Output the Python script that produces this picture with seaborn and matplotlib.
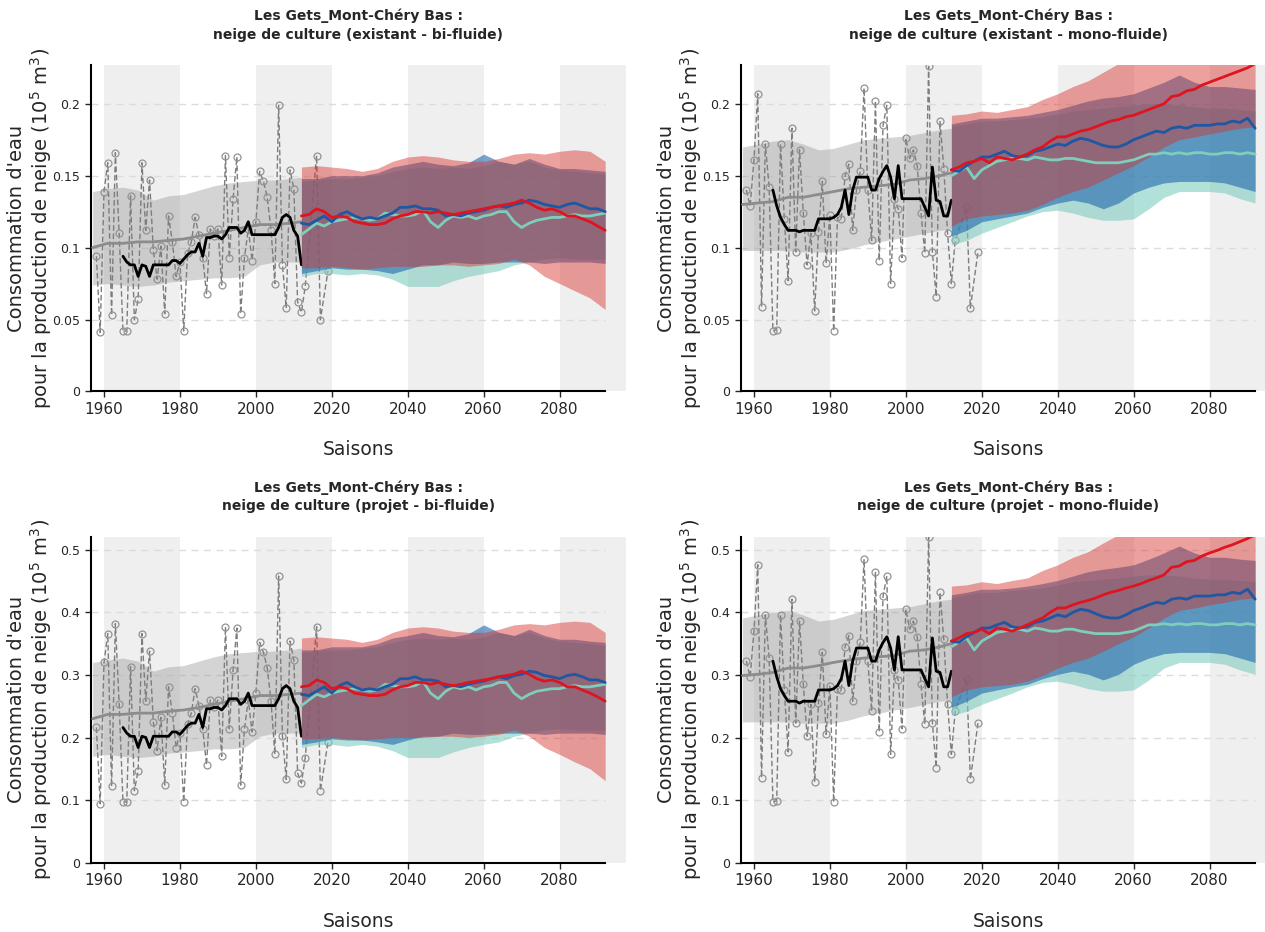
import matplotlib
matplotlib.use("Agg")
import matplotlib.pyplot as plt
import seaborn as sns

# ---- years -----------------------------------------------------------
YEARS_OBS = list(range(1958, 2014)) + [2016, 2017, 2019]
YEARS_RUN = list(range(1965, 2013))
YEARS_HIST = [1957, 1961, 1965, 1969, 1973, 1977, 1981, 1985, 1989, 1993, 1997, 2001, 2005, 2009, 2012]
YEARS_LINE = list(range(2012, 2093, 2))
YEARS_BAND = list(range(2012, 2093, 4))

# ---- existant - bi-fluide ---------------------------------------------
TL_OBS = [0.094, 0.041, 0.139, 0.159, 0.053, 0.166, 0.110, 0.042, 0.042, 0.136, 0.050, 0.064,
          0.159, 0.112, 0.147, 0.098, 0.078, 0.101, 0.054, 0.122, 0.104, 0.080, 0.090, 0.042,
          0.096, 0.104, 0.121, 0.109, 0.093, 0.068, 0.113, 0.108, 0.113, 0.074, 0.164, 0.093,
          0.134, 0.163, 0.054, 0.093, 0.113, 0.091, 0.118, 0.153, 0.146, 0.135, 0.112, 0.075,
          0.199, 0.088, 0.058, 0.154, 0.141, 0.062, 0.055, 0.073, 0.164, 0.050, 0.084]
TL_RUN = [0.094, 0.090, 0.088, 0.088, 0.080, 0.088, 0.087, 0.080, 0.088, 0.088, 0.088, 0.088,
          0.088, 0.091, 0.091, 0.089, 0.092, 0.095, 0.097, 0.097, 0.103, 0.094, 0.107, 0.107,
          0.108, 0.108, 0.106, 0.109, 0.114, 0.114, 0.114, 0.110, 0.112, 0.118, 0.109, 0.109,
          0.109, 0.109, 0.109, 0.109, 0.109, 0.114, 0.121, 0.123, 0.121, 0.112, 0.108, 0.088]
TL_HIST_MEAN = [0.100, 0.103, 0.103, 0.104, 0.104, 0.105, 0.106, 0.108, 0.110, 0.112, 0.114, 0.116, 0.116, 0.117, 0.118]
TL_HIST_LO = [0.074, 0.075, 0.074, 0.073, 0.074, 0.076, 0.077, 0.078, 0.079, 0.079, 0.080, 0.088, 0.090, 0.090, 0.090]
TL_HIST_HI = [0.139, 0.141, 0.142, 0.140, 0.133, 0.136, 0.137, 0.140, 0.143, 0.145, 0.146, 0.147, 0.147, 0.148, 0.149]
TL_RED = [0.122, 0.123, 0.127, 0.125, 0.121, 0.122, 0.121, 0.118, 0.117, 0.116, 0.116, 0.117, 0.120, 0.122,
          0.123, 0.125, 0.125, 0.124, 0.125, 0.124, 0.123, 0.124, 0.125, 0.126, 0.127, 0.128, 0.129, 0.130,
          0.131, 0.133, 0.131, 0.128, 0.126, 0.127, 0.125, 0.122, 0.122, 0.120, 0.118, 0.115, 0.112]
TL_BLUE = [0.117, 0.116, 0.119, 0.122, 0.118, 0.123, 0.125, 0.122, 0.120, 0.121, 0.120, 0.122, 0.124, 0.128,
           0.128, 0.129, 0.127, 0.127, 0.126, 0.122, 0.123, 0.122, 0.124, 0.125, 0.126, 0.128, 0.129, 0.128,
           0.130, 0.131, 0.133, 0.132, 0.130, 0.129, 0.128, 0.130, 0.131, 0.129, 0.127, 0.127, 0.125]
TL_TEAL = [0.109, 0.113, 0.117, 0.115, 0.118, 0.119, 0.120, 0.121, 0.120, 0.119, 0.120, 0.124, 0.123, 0.122,
           0.122, 0.123, 0.126, 0.118, 0.114, 0.119, 0.122, 0.121, 0.122, 0.120, 0.122, 0.123, 0.125, 0.125,
           0.118, 0.114, 0.117, 0.119, 0.120, 0.121, 0.121, 0.122, 0.123, 0.122, 0.122, 0.123, 0.124]
TL_RED_HI = [0.156, 0.157, 0.156, 0.155, 0.153, 0.155, 0.160, 0.163, 0.164, 0.163, 0.161, 0.160, 0.160, 0.162,
             0.165, 0.166, 0.165, 0.167, 0.168, 0.167, 0.160]
TL_RED_LO = [0.086, 0.086, 0.087, 0.086, 0.085, 0.086, 0.087, 0.087, 0.087, 0.088, 0.088, 0.087, 0.088, 0.089,
             0.092, 0.088, 0.080, 0.075, 0.070, 0.065, 0.057]
TL_BLUE_HI = [0.148, 0.148, 0.150, 0.150, 0.150, 0.152, 0.156, 0.158, 0.160, 0.158, 0.157, 0.159, 0.165, 0.160,
              0.158, 0.162, 0.158, 0.155, 0.155, 0.154, 0.153]
TL_BLUE_LO = [0.082, 0.084, 0.086, 0.085, 0.085, 0.084, 0.082, 0.085, 0.088, 0.088, 0.090, 0.089, 0.089, 0.090,
              0.090, 0.090, 0.089, 0.090, 0.090, 0.090, 0.089]
TL_TEAL_HI = [0.146, 0.147, 0.148, 0.148, 0.149, 0.150, 0.153, 0.155, 0.156, 0.155, 0.156, 0.155, 0.157, 0.160,
              0.158, 0.160, 0.156, 0.154, 0.153, 0.152, 0.151]
TL_TEAL_LO = [0.080, 0.082, 0.082, 0.081, 0.082, 0.081, 0.078, 0.073, 0.073, 0.073, 0.077, 0.080, 0.082, 0.084,
              0.088, 0.090, 0.092, 0.093, 0.092, 0.092, 0.092]

# ---- existant - mono-fluide -------------------------------------------
TR_OBS = [0.140, 0.129, 0.161, 0.207, 0.059, 0.172, 0.142, 0.042, 0.043, 0.172, 0.120, 0.077,
          0.183, 0.097, 0.168, 0.124, 0.088, 0.110, 0.056, 0.111, 0.146, 0.089, 0.123, 0.042,
          0.121, 0.120, 0.150, 0.158, 0.112, 0.140, 0.153, 0.211, 0.140, 0.105, 0.202, 0.091,
          0.185, 0.199, 0.075, 0.134, 0.127, 0.093, 0.176, 0.162, 0.168, 0.157, 0.124, 0.096,
          0.226, 0.097, 0.066, 0.188, 0.155, 0.110, 0.075, 0.105, 0.128, 0.058, 0.097]
TR_RUN = [0.140, 0.129, 0.121, 0.116, 0.112, 0.112, 0.112, 0.111, 0.112, 0.112, 0.112, 0.112,
          0.120, 0.120, 0.120, 0.120, 0.121, 0.123, 0.128, 0.140, 0.123, 0.140, 0.149, 0.149,
          0.149, 0.149, 0.140, 0.140, 0.148, 0.153, 0.157, 0.149, 0.134, 0.157, 0.134, 0.134,
          0.134, 0.134, 0.134, 0.134, 0.128, 0.122, 0.156, 0.133, 0.132, 0.122, 0.122, 0.133]
TR_HIST_MEAN = [0.130, 0.131, 0.132, 0.135, 0.135, 0.137, 0.139, 0.141, 0.142, 0.143, 0.144, 0.147, 0.148, 0.150, 0.152]
TR_HIST_LO = [0.098, 0.098, 0.098, 0.098, 0.097, 0.097, 0.097, 0.099, 0.102, 0.104, 0.106, 0.108, 0.110, 0.112, 0.113]
TR_HIST_HI = [0.170, 0.172, 0.174, 0.175, 0.172, 0.168, 0.169, 0.172, 0.175, 0.176, 0.177, 0.178, 0.180, 0.182, 0.183]
TR_RED = [0.154, 0.156, 0.159, 0.160, 0.162, 0.159, 0.163, 0.162, 0.161, 0.163, 0.165, 0.168, 0.170, 0.174,
          0.177, 0.177, 0.179, 0.181, 0.182, 0.184, 0.186, 0.188, 0.189, 0.191, 0.192, 0.194, 0.196, 0.198,
          0.200, 0.205, 0.206, 0.209, 0.210, 0.213, 0.215, 0.217, 0.219, 0.221, 0.223, 0.225, 0.228]
TR_BLUE = [0.154, 0.153, 0.157, 0.160, 0.163, 0.163, 0.165, 0.167, 0.164, 0.163, 0.164, 0.167, 0.168, 0.170,
           0.172, 0.171, 0.174, 0.176, 0.175, 0.173, 0.171, 0.170, 0.170, 0.172, 0.175, 0.177, 0.179, 0.181,
           0.180, 0.183, 0.184, 0.183, 0.185, 0.185, 0.185, 0.186, 0.186, 0.188, 0.187, 0.190, 0.183]
TR_TEAL = [0.150, 0.153, 0.156, 0.148, 0.154, 0.157, 0.160, 0.161, 0.162, 0.162, 0.161, 0.163, 0.162, 0.161,
           0.161, 0.162, 0.162, 0.161, 0.160, 0.159, 0.159, 0.159, 0.159, 0.160, 0.161, 0.163, 0.165, 0.165,
           0.166, 0.165, 0.166, 0.165, 0.166, 0.166, 0.165, 0.165, 0.166, 0.166, 0.165, 0.166, 0.165]
TR_RED_HI = [0.192, 0.193, 0.195, 0.194, 0.196, 0.198, 0.203, 0.207, 0.212, 0.216, 0.222, 0.228, 0.235, 0.240,
             0.245, 0.250, 0.255, 0.258, 0.262, 0.266, 0.270]
TR_RED_LO = [0.115, 0.120, 0.122, 0.123, 0.124, 0.126, 0.130, 0.135, 0.139, 0.142, 0.147, 0.152, 0.157, 0.163,
             0.170, 0.175, 0.177, 0.179, 0.181, 0.183, 0.184]
TR_BLUE_HI = [0.186, 0.188, 0.190, 0.190, 0.191, 0.192, 0.194, 0.196, 0.199, 0.202, 0.204, 0.205, 0.207, 0.211,
              0.215, 0.220, 0.215, 0.212, 0.212, 0.211, 0.210]
TR_BLUE_LO = [0.108, 0.112, 0.118, 0.120, 0.122, 0.124, 0.128, 0.131, 0.133, 0.131, 0.127, 0.131, 0.138, 0.142,
              0.145, 0.146, 0.146, 0.146, 0.145, 0.142, 0.139]
TR_TEAL_HI = [0.184, 0.186, 0.188, 0.188, 0.189, 0.190, 0.191, 0.193, 0.195, 0.196, 0.197, 0.198, 0.199, 0.200,
              0.200, 0.199, 0.198, 0.197, 0.197, 0.196, 0.195]
TR_TEAL_LO = [0.102, 0.105, 0.110, 0.114, 0.118, 0.122, 0.125, 0.126, 0.124, 0.121, 0.119, 0.119, 0.120, 0.127,
              0.135, 0.139, 0.139, 0.139, 0.138, 0.134, 0.131]

# ---- projet - bi-fluide -----------------------------------------------
BL_OBS = [0.216, 0.094, 0.320, 0.366, 0.122, 0.382, 0.253, 0.097, 0.097, 0.313, 0.115, 0.147,
          0.366, 0.258, 0.338, 0.225, 0.179, 0.232, 0.124, 0.281, 0.239, 0.184, 0.207, 0.097,
          0.221, 0.239, 0.278, 0.251, 0.214, 0.156, 0.260, 0.248, 0.260, 0.170, 0.377, 0.214,
          0.308, 0.375, 0.124, 0.214, 0.260, 0.209, 0.271, 0.352, 0.336, 0.311, 0.258, 0.173,
          0.458, 0.202, 0.133, 0.354, 0.324, 0.143, 0.127, 0.168, 0.377, 0.115, 0.193]
BL_RUN = [0.216, 0.207, 0.202, 0.202, 0.184, 0.202, 0.200, 0.184, 0.202, 0.202, 0.202, 0.202,
          0.202, 0.209, 0.209, 0.205, 0.212, 0.219, 0.223, 0.223, 0.237, 0.216, 0.246, 0.246,
          0.248, 0.248, 0.244, 0.251, 0.262, 0.262, 0.262, 0.253, 0.258, 0.271, 0.251, 0.251,
          0.251, 0.251, 0.251, 0.251, 0.251, 0.262, 0.278, 0.283, 0.278, 0.258, 0.248, 0.202]
BL_HIST_MEAN = [0.230, 0.237, 0.237, 0.239, 0.239, 0.242, 0.244, 0.248, 0.253, 0.258, 0.262, 0.267, 0.267, 0.269, 0.271]
BL_HIST_LO = [0.170, 0.173, 0.170, 0.168, 0.170, 0.175, 0.177, 0.179, 0.182, 0.182, 0.184, 0.202, 0.207, 0.207, 0.207]
BL_HIST_HI = [0.320, 0.324, 0.327, 0.322, 0.306, 0.313, 0.315, 0.322, 0.329, 0.334, 0.336, 0.338, 0.338, 0.340, 0.343]
BL_RED = [0.281, 0.283, 0.292, 0.288, 0.278, 0.281, 0.278, 0.271, 0.269, 0.267, 0.267, 0.269, 0.276, 0.281,
          0.283, 0.288, 0.288, 0.285, 0.288, 0.285, 0.283, 0.285, 0.288, 0.290, 0.292, 0.294, 0.297, 0.299,
          0.301, 0.306, 0.301, 0.294, 0.290, 0.292, 0.288, 0.281, 0.281, 0.276, 0.271, 0.265, 0.258]
BL_BLUE = [0.269, 0.267, 0.274, 0.281, 0.271, 0.283, 0.288, 0.281, 0.276, 0.278, 0.276, 0.281, 0.285, 0.294,
           0.294, 0.297, 0.292, 0.292, 0.290, 0.281, 0.283, 0.281, 0.285, 0.288, 0.290, 0.294, 0.297, 0.294,
           0.299, 0.301, 0.306, 0.304, 0.299, 0.297, 0.294, 0.299, 0.301, 0.297, 0.292, 0.292, 0.288]
BL_TEAL = [0.251, 0.260, 0.269, 0.265, 0.271, 0.274, 0.276, 0.278, 0.276, 0.274, 0.276, 0.285, 0.283, 0.281,
           0.281, 0.283, 0.290, 0.271, 0.262, 0.274, 0.281, 0.278, 0.281, 0.276, 0.281, 0.283, 0.288, 0.288,
           0.271, 0.262, 0.269, 0.274, 0.276, 0.278, 0.278, 0.281, 0.283, 0.281, 0.281, 0.283, 0.285]
BL_RED_HI = [0.359, 0.361, 0.359, 0.357, 0.352, 0.357, 0.368, 0.375, 0.377, 0.375, 0.370, 0.368, 0.368, 0.373,
             0.380, 0.382, 0.380, 0.384, 0.386, 0.384, 0.368]
BL_RED_LO = [0.198, 0.198, 0.200, 0.198, 0.196, 0.198, 0.200, 0.200, 0.200, 0.202, 0.202, 0.200, 0.202, 0.205,
             0.212, 0.202, 0.184, 0.173, 0.161, 0.150, 0.131]
BL_BLUE_HI = [0.340, 0.340, 0.345, 0.345, 0.345, 0.350, 0.359, 0.363, 0.368, 0.363, 0.361, 0.366, 0.380, 0.368,
              0.363, 0.373, 0.363, 0.357, 0.357, 0.354, 0.352]
BL_BLUE_LO = [0.189, 0.193, 0.198, 0.196, 0.196, 0.193, 0.189, 0.196, 0.202, 0.202, 0.207, 0.205, 0.205, 0.207,
              0.207, 0.207, 0.205, 0.207, 0.207, 0.207, 0.205]
BL_TEAL_HI = [0.336, 0.338, 0.340, 0.340, 0.343, 0.345, 0.352, 0.357, 0.359, 0.357, 0.359, 0.357, 0.361, 0.368,
              0.363, 0.368, 0.359, 0.354, 0.352, 0.350, 0.347]
BL_TEAL_LO = [0.184, 0.189, 0.189, 0.186, 0.189, 0.186, 0.179, 0.168, 0.168, 0.168, 0.177, 0.184, 0.189, 0.193,
              0.202, 0.207, 0.212, 0.214, 0.212, 0.212, 0.212]

# ---- projet - mono-fluide ---------------------------------------------
BR_OBS = [0.322, 0.297, 0.370, 0.476, 0.136, 0.396, 0.327, 0.097, 0.099, 0.396, 0.276, 0.177,
          0.421, 0.223, 0.386, 0.285, 0.202, 0.253, 0.129, 0.255, 0.336, 0.205, 0.283, 0.097,
          0.278, 0.276, 0.345, 0.363, 0.258, 0.322, 0.352, 0.485, 0.322, 0.242, 0.465, 0.209,
          0.426, 0.458, 0.173, 0.308, 0.292, 0.214, 0.405, 0.373, 0.386, 0.361, 0.285, 0.221,
          0.520, 0.223, 0.152, 0.432, 0.357, 0.253, 0.173, 0.242, 0.294, 0.133, 0.223]
BR_RUN = [0.322, 0.297, 0.278, 0.267, 0.258, 0.258, 0.258, 0.255, 0.258, 0.258, 0.258, 0.258,
          0.276, 0.276, 0.276, 0.276, 0.278, 0.283, 0.294, 0.322, 0.283, 0.322, 0.343, 0.343,
          0.343, 0.343, 0.322, 0.322, 0.340, 0.352, 0.361, 0.343, 0.308, 0.361, 0.308, 0.308,
          0.308, 0.308, 0.308, 0.308, 0.294, 0.281, 0.359, 0.306, 0.304, 0.281, 0.281, 0.306]
BR_HIST_MEAN = [0.299, 0.301, 0.304, 0.311, 0.311, 0.315, 0.320, 0.324, 0.327, 0.329, 0.331, 0.338, 0.340, 0.345, 0.350]
BR_HIST_LO = [0.225, 0.225, 0.225, 0.225, 0.223, 0.223, 0.223, 0.228, 0.235, 0.239, 0.244, 0.248, 0.253, 0.258, 0.260]
BR_HIST_HI = [0.391, 0.396, 0.400, 0.403, 0.396, 0.386, 0.389, 0.396, 0.403, 0.405, 0.407, 0.409, 0.414, 0.419, 0.421]
BR_RED = [0.354, 0.359, 0.366, 0.368, 0.373, 0.366, 0.375, 0.373, 0.370, 0.375, 0.380, 0.386, 0.391, 0.400,
          0.407, 0.407, 0.412, 0.416, 0.419, 0.423, 0.428, 0.432, 0.435, 0.439, 0.442, 0.446, 0.451, 0.455,
          0.460, 0.472, 0.474, 0.481, 0.483, 0.490, 0.495, 0.499, 0.504, 0.508, 0.513, 0.518, 0.524]
BR_BLUE = [0.354, 0.352, 0.361, 0.368, 0.375, 0.375, 0.380, 0.384, 0.377, 0.375, 0.377, 0.384, 0.386, 0.391,
           0.396, 0.393, 0.400, 0.405, 0.403, 0.398, 0.393, 0.391, 0.391, 0.396, 0.403, 0.407, 0.412, 0.416,
           0.414, 0.421, 0.423, 0.421, 0.426, 0.426, 0.426, 0.428, 0.428, 0.432, 0.430, 0.437, 0.421]
BR_TEAL = [0.345, 0.352, 0.359, 0.340, 0.354, 0.361, 0.368, 0.370, 0.373, 0.373, 0.370, 0.375, 0.373, 0.370,
           0.370, 0.373, 0.373, 0.370, 0.368, 0.366, 0.366, 0.366, 0.366, 0.368, 0.370, 0.375, 0.380, 0.380,
           0.382, 0.380, 0.382, 0.380, 0.382, 0.382, 0.380, 0.380, 0.382, 0.382, 0.380, 0.382, 0.380]
BR_RED_HI = [0.442, 0.444, 0.449, 0.446, 0.451, 0.455, 0.467, 0.476, 0.488, 0.497, 0.511, 0.524, 0.541, 0.552,
             0.564, 0.575, 0.587, 0.593, 0.603, 0.612, 0.621]
BR_RED_LO = [0.265, 0.276, 0.281, 0.283, 0.285, 0.290, 0.299, 0.311, 0.320, 0.327, 0.338, 0.350, 0.361, 0.375,
             0.391, 0.403, 0.407, 0.412, 0.416, 0.421, 0.423]
BR_BLUE_HI = [0.428, 0.432, 0.437, 0.437, 0.439, 0.442, 0.446, 0.451, 0.458, 0.465, 0.469, 0.472, 0.476, 0.485,
              0.495, 0.506, 0.495, 0.488, 0.488, 0.485, 0.483]
BR_BLUE_LO = [0.248, 0.258, 0.271, 0.276, 0.281, 0.285, 0.294, 0.301, 0.306, 0.301, 0.292, 0.301, 0.317, 0.327,
              0.334, 0.336, 0.336, 0.336, 0.334, 0.327, 0.320]
BR_TEAL_HI = [0.423, 0.428, 0.432, 0.432, 0.435, 0.437, 0.439, 0.444, 0.449, 0.451, 0.453, 0.455, 0.458, 0.460,
              0.460, 0.458, 0.455, 0.453, 0.453, 0.451, 0.449]
BR_TEAL_LO = [0.235, 0.242, 0.253, 0.262, 0.271, 0.281, 0.288, 0.290, 0.285, 0.278, 0.274, 0.274, 0.276, 0.292,
              0.311, 0.320, 0.320, 0.320, 0.317, 0.308, 0.301]

TITLES = [
    "Les Gets_Mont-Chéry Bas :\nneige de culture (existant - bi-fluide)",
    "Les Gets_Mont-Chéry Bas :\nneige de culture (existant - mono-fluide)",
    "Les Gets_Mont-Chéry Bas :\nneige de culture (projet - bi-fluide)",
    "Les Gets_Mont-Chéry Bas :\nneige de culture (projet - mono-fluide)",
]
YLABEL = "Consommation d'eau\npour la production de neige (10$^5$ m$^3$)"
XTICKS = [1960, 1980, 2000, 2020, 2040, 2060, 2080]
YTICKS_TOP = [0, 0.05, 0.1, 0.15, 0.2]
YTICKS_BOT = [0, 0.1, 0.2, 0.3, 0.4, 0.5]

C_RED, C_BLUE, C_TEAL = "#d7302a", "#2166ac", "#80cdc1"
L_RED, L_BLUE, L_TEAL = "#e0141e", "#1f57a3", "#7fcdbb"

sns.set_style("ticks")
plt.rcParams["font.family"] = ["DejaVu Sans"]

fig = plt.figure(figsize=(12.65, 9.32), dpi=100)
W = 0.4232
positions = [
    [0.0717, 0.580, W, 0.3503],
    [0.5855, 0.580, W, 0.3503],
    [0.0717, 0.0744, W, 0.3498],
    [0.5855, 0.0744, W, 0.3498],
]

panels = [
    (TL_OBS, TL_RUN, TL_HIST_MEAN, TL_HIST_LO, TL_HIST_HI,
     [(TL_TEAL, TL_TEAL_LO, TL_TEAL_HI), (TL_BLUE, TL_BLUE_LO, TL_BLUE_HI), (TL_RED, TL_RED_LO, TL_RED_HI)],
     YTICKS_TOP, 0.227),
    (TR_OBS, TR_RUN, TR_HIST_MEAN, TR_HIST_LO, TR_HIST_HI,
     [(TR_TEAL, TR_TEAL_LO, TR_TEAL_HI), (TR_BLUE, TR_BLUE_LO, TR_BLUE_HI), (TR_RED, TR_RED_LO, TR_RED_HI)],
     YTICKS_TOP, 0.227),
    (BL_OBS, BL_RUN, BL_HIST_MEAN, BL_HIST_LO, BL_HIST_HI,
     [(BL_TEAL, BL_TEAL_LO, BL_TEAL_HI), (BL_BLUE, BL_BLUE_LO, BL_BLUE_HI), (BL_RED, BL_RED_LO, BL_RED_HI)],
     YTICKS_BOT, 0.521),
    (BR_OBS, BR_RUN, BR_HIST_MEAN, BR_HIST_LO, BR_HIST_HI,
     [(BR_TEAL, BR_TEAL_LO, BR_TEAL_HI), (BR_BLUE, BR_BLUE_LO, BR_BLUE_HI), (BR_RED, BR_RED_LO, BR_RED_HI)],
     YTICKS_BOT, 0.521),
]

band_styles = [(C_TEAL, 0.6), (C_BLUE, 0.6), (C_RED, 0.45)]
line_colors = [L_TEAL, L_BLUE, L_RED]

for pos, title, (obs, run, hmean, hlo, hhi, scen, yticks, ytop) in zip(positions, TITLES, panels):
    ax = fig.add_axes(pos)

    # alternating background stripes
    for start in [1960, 2000, 2040, 2080]:
        ax.axvspan(start, start + 20, color="#efefef", lw=0, zorder=0)
    ax.hlines(yticks[1:], 1956.5, 2092, colors="#dcdcdc", linestyles=(0, (5, 4)), lw=1, zorder=0.5)

    # historical envelope and annual values
    ax.fill_between(YEARS_HIST, hlo, hhi, color="#a0a0a0", alpha=0.45, lw=0, zorder=1)
    sns.lineplot(x=YEARS_OBS, y=obs, ax=ax, color="#7d7d7d", lw=1, linestyle=(0, (4, 2)),
                 marker="o", markersize=5, markerfacecolor="none", markeredgecolor="#939393",
                 markeredgewidth=0.9, zorder=2)
    sns.lineplot(x=YEARS_HIST, y=hmean, ax=ax, color="#8c8c8c", lw=2, zorder=3)
    sns.lineplot(x=YEARS_RUN, y=run, ax=ax, color="black", lw=2, zorder=4)

    # scenario envelopes then medians
    for (mean, lo, hi), (col, a) in zip(scen, band_styles):
        ax.fill_between(YEARS_BAND, lo, hi, color=col, alpha=a, lw=0, zorder=5)
    for (mean, lo, hi), col in zip(scen, line_colors):
        sns.lineplot(x=YEARS_LINE, y=mean, ax=ax, color=col, lw=2, zorder=6)

    ax.set_xlim(1956.5, 2097.5)
    ax.set_ylim(0, ytop)
    ax.set_xticks(XTICKS)
    ax.set_yticks(yticks)
    ax.set_yticklabels(["0"] + [f"{v:g}" for v in yticks[1:]])
    ax.tick_params(axis="x", labelsize=11, length=4, width=1)
    ax.tick_params(axis="y", labelsize=9, length=4, width=1)
    sns.despine(ax=ax)
    ax.spines["bottom"].set_bounds(1956.5, 2092)
    for s in ["left", "bottom"]:
        ax.spines[s].set_linewidth(1.5)
        ax.spines[s].set_color("black")

    ax.set_title(title, fontsize=10, fontweight="bold", pad=19, linespacing=1.4)
    ax.set_xlabel("Saisons", fontsize=13.5, labelpad=17)
    ax.set_ylabel(YLABEL, fontsize=14, linespacing=1.1)
    ax.yaxis.set_label_coords(-0.069, 0.5)

fig.savefig("out.png", dpi=100)
